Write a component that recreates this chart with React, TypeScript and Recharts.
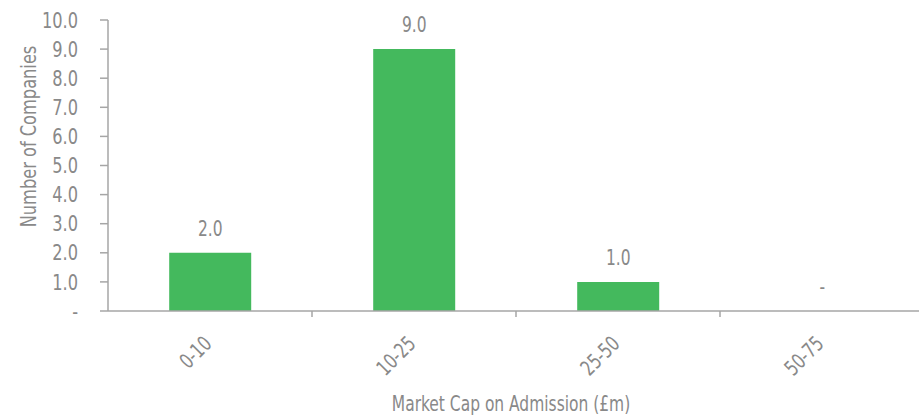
import React from "react";
import { BarChart, Bar, XAxis, YAxis, LabelList, Label } from "recharts";

const CATEGORIES = ["0-10", "10-25", "25-50", "50-75"];
const COMPANIES = [2, 9, 1, 0];
const Y_TICKS = [0, 1, 2, 3, 4, 5, 6, 7, 8, 9, 10];

const FONT = "'DejaVu Sans Condensed', 'DejaVu Sans', sans-serif";
const SQUEEZE = 0.82;
const TEXT = "#898989";
const AXIS = "#a6a6a6";
const GREEN = "#44b95d";

const data = CATEGORIES.map((c, i) => ({ range: c, companies: COMPANIES[i] }));

const fmt = (v: any) => (Number(v) === 0 ? "-" : Number(v).toFixed(1));

const CHART_W = 919;
const CHART_H = 416;
const MARGIN = { top: 20, right: -5, bottom: 0, left: 0 };
const Y_W = 108;
const X_H = 105;

const T = (props: any) => {
  const { x, y, rotate = 0, anchor = "middle", baseline, size = 21, children } = props;
  return (
    <text
      transform={`translate(${x},${y}) rotate(${rotate}) scale(${SQUEEZE},1)`}
      textAnchor={anchor}
      dominantBaseline={baseline}
      fill={TEXT}
      fontSize={size}
      fontFamily={FONT}
    >
      {children}
    </text>
  );
};

const XTick = (props: any) => {
  const { x, y, payload, index } = props;
  const band = (CHART_W - Y_W - MARGIN.right) / CATEGORIES.length;
  const off = payload && payload.offset ? payload.offset : band / 2;
  return (
    <g>
      {index > 0 && (
        <line x1={x - off} x2={x - off} y1={y} y2={y + 6} stroke={AXIS} strokeWidth={1.5} />
      )}
      <T x={x + 3} y={y + 34} rotate={-45} anchor="end">
        {payload.value}
      </T>
    </g>
  );
};

const YTick = (props: any) => {
  const { x, y, payload } = props;
  return (
    <T x={x} y={y} anchor="end" baseline="central" size={22}>
      {fmt(payload.value)}
    </T>
  );
};

const BarValue = (props: any) => {
  const { x, y, width, value } = props;
  if (x == null || y == null) return null;
  return (
    <T x={Number(x) + Number(width) / 2} y={Number(y) - 17}>
      {fmt(value)}
    </T>
  );
};

export default function App() {
  return (
    <div style={{ position: "absolute", left: 0, top: 0 }}>
      <BarChart width={CHART_W} height={CHART_H} data={data} margin={MARGIN} barCategoryGap="30%">
        <XAxis
          dataKey="range"
          interval={0}
          tickLine={false}
          tickSize={0}
          tickMargin={0}
          axisLine={{ stroke: AXIS, strokeWidth: 1.5 }}
          height={X_H}
          tick={<XTick />}
        >
          <Label
            content={(p: any) => {
              const vb = p.viewBox || { x: Y_W, y: 311, width: 811, height: X_H };
              return (
                <T x={vb.x + vb.width / 2 - 5} y={vb.y + vb.height - 5}>
                  Market Cap on Admission (£m)
                </T>
              );
            }}
          />
        </XAxis>
        <YAxis
          domain={[0, 10]}
          ticks={Y_TICKS}
          interval={0}
          tickSize={8}
          tickMargin={22}
          width={Y_W}
          axisLine={{ stroke: AXIS, strokeWidth: 1.5 }}
          tickLine={{ stroke: AXIS, strokeWidth: 1.5 }}
          tick={<YTick />}
        >
          <Label
            content={(p: any) => {
              const vb = p.viewBox || { x: 0, y: 20, width: Y_W, height: 291 };
              return (
                <T
                  x={vb.x + 28}
                  y={vb.y + vb.height / 2 - 29}
                  rotate={-90}
                  baseline="central"
                  size={22}
                >
                  Number of Companies
                </T>
              );
            }}
          />
        </YAxis>
        <Bar dataKey="companies" fill={GREEN} minPointSize={0.01} isAnimationActive={false}>
          <LabelList dataKey="companies" position="top" content={<BarValue />} />
        </Bar>
      </BarChart>
    </div>
  );
}
